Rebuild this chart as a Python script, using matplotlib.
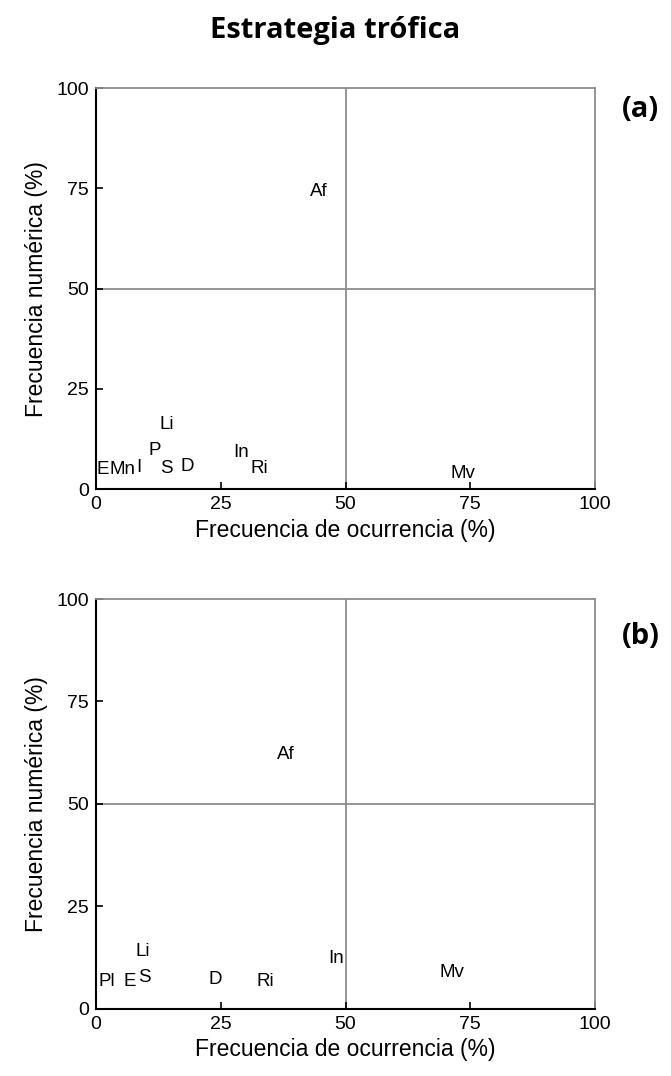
import matplotlib.pyplot as plt

# panel (a)
labels_a = ['Af', 'Li', 'P', 'In', 'Ri', 'Mv', 'E', 'Mn', 'I', 'S', 'D']
x_a = [44.7, 14.2, 11.8, 29.1, 32.7, 73.5, 1.4, 5.4, 8.5, 14.2, 18.2]
y_a = [74.3, 16.0, 9.7, 9.2, 5.2, 4.0, 5.0, 5.0, 5.3, 5.2, 5.5]

# panel (b)
labels_b = ['Af', 'Li', 'S', 'E', 'Pl', 'D', 'Ri', 'In', 'Mv']
x_b = [38.1, 9.4, 9.8, 6.8, 2.2, 23.8, 33.9, 48.1, 71.3]
y_b = [62.0, 13.9, 7.6, 6.6, 6.6, 7.1, 6.6, 12.4, 9.0]

ticks = [0, 25, 50, 75, 100]

plt.rcParams['font.family'] = ['Liberation Sans', 'DejaVu Sans']
fig = plt.figure(figsize=(6.71, 10.76), dpi=100)

gray = '#8c8c8c'


def panel(ax, labels, xs, ys, boxed=()):
    ax.set_xlim(0, 100)
    ax.set_ylim(0, 100)
    ax.axvline(50, color=gray, lw=1.3, zorder=1)
    ax.axhline(50, color=gray, lw=1.3, zorder=1)
    for lab, x, y in zip(labels, xs, ys):
        kw = {}
        if lab in boxed:
            kw['bbox'] = dict(facecolor='white', edgecolor='none', pad=0.5)
        ax.text(x, y, lab, ha='center', va='center', fontsize=13.5, zorder=3, **kw)
    ax.set_xticks(ticks)
    ax.set_yticks(ticks)
    ax.tick_params(direction='in', length=5, width=1.2, labelsize=14, pad=5)
    for s in ['left', 'bottom']:
        ax.spines[s].set_color('black')
        ax.spines[s].set_linewidth(1.5)
    for s in ['top', 'right']:
        ax.spines[s].set_color(gray)
        ax.spines[s].set_linewidth(1.3)
    ax.set_xlabel('Frecuencia de ocurrencia (%)', fontsize=16.5, labelpad=4)
    ax.set_ylabel('Frecuencia numérica (%)', fontsize=16.5, labelpad=6)


ax1 = fig.add_axes([0.143, 0.5455, 0.744, 0.3725])
panel(ax1, labels_a, x_a, y_a)
ax2 = fig.add_axes([0.143, 0.0623, 0.744, 0.381])
panel(ax2, labels_b, x_b, y_b, boxed=('In',))

fig.text(0.5, 0.972, 'Estrategia trófica', ha='center', va='center',
         fontsize=21, fontweight='bold', family=['Open Sans', 'DejaVu Sans'])
fig.text(0.955, 0.898, '(a)', ha='center', va='center',
         fontsize=21, fontweight='bold', family=['Open Sans', 'DejaVu Sans'])
fig.text(0.955, 0.408, '(b)', ha='center', va='center',
         fontsize=21, fontweight='bold', family=['Open Sans', 'DejaVu Sans'])

fig.savefig('out.png', dpi=100)
